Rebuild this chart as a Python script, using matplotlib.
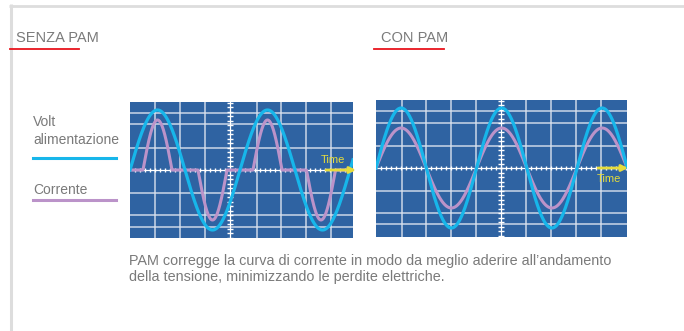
import matplotlib.pyplot as plt
import numpy as np

plt.rcParams['font.family'] = ['Liberation Sans', 'DejaVu Sans']

# ---- values (panel units = pixels) ----
titles = ['SENZA PAM', 'CON PAM']
legend_labels = ['Volt\nalimentazione', 'Corrente']
caption = ('PAM corregge la curva di corrente in modo da meglio aderire all\u2019andamento\n'
           'della tensione, minimizzando le perdite elettriche.')

# left panel: voltage sine, current as narrow pulses at the voltage peaks
left_volt_amp = 60
left_volt_period = 110
left_pulse_centers = [27.5, 82.5, 137.5, 191]
left_pulse_signs = [1, -1, 1, -1]
left_pulse_width = 29
left_pulse_amp = 50

# right panel: voltage and current in phase
right_volt_amp = 60
right_volt_period = 100.5
right_curr_amp = 40

left_vgrid = [25, 50, 75, 127, 151, 176, 201]
left_hgrid = [-57, -45, -23, 22, 46, 57]
right_vgrid = [26, 50, 75, 100, 150, 175, 200, 225]
right_hgrid = [-56, -45, -23, 22, 45, 57]

PANEL_BG = '#2f63a2'
GRID = '#dbe3ef'
BLUE = '#17b6ea'
PURPLE = '#bb93c9'
YELLOW = '#e6dc3c'
GRAY_TXT = '#7a7a7a'

W, H = 684, 331
fig = plt.figure(figsize=(W / 100, H / 100), dpi=100)
bg = fig.add_axes([0, 0, 1, 1])
bg.set_xlim(0, W)
bg.set_ylim(H, 0)
bg.axis('off')

# frame
bg.plot([9, W], [5.5, 5.5], color='#dddddd', lw=2.0, solid_capstyle='butt')
bg.plot([10.5, 10.5], [4, H], color='#dddddd', lw=2.2, solid_capstyle='butt')

# titles with red underline
bg.text(16, 38, titles[0], color=GRAY_TXT, fontsize=10.5, va='center')
bg.plot([10, 79], [49, 49], color='#e8141c', lw=1.3)
bg.text(381, 38, titles[1], color=GRAY_TXT, fontsize=10.5, va='center')
bg.plot([374, 444], [49, 49], color='#e8141c', lw=1.3)

# legend
bg.text(33, 131, legend_labels[0], color=GRAY_TXT, fontsize=10, va='center',
        linespacing=1.3)
bg.plot([33, 116], [157.5, 157.5], color=BLUE, lw=2.2)
bg.text(33, 190, legend_labels[1], color=GRAY_TXT, fontsize=10, va='center')
bg.plot([33, 116], [199.5, 199.5], color=PURPLE, lw=2.2)

bg.text(129, 269, caption, color=GRAY_TXT, fontsize=10.4, va='center',
        linespacing=1.2)


def make_panel(x0, y0, x1, y1, yc, vgrid, hgrid, axis_x):
    ax = fig.add_axes([x0 / W, (H - y1) / H, (x1 - x0) / W, (y1 - y0) / H])
    ax.set_xlim(0, x1 - x0)
    ax.set_ylim(-(y1 - yc), yc - y0)
    ax.set_facecolor(PANEL_BG)
    for s in ax.spines.values():
        s.set_visible(False)
    ax.set_xticks([])
    ax.set_yticks([])
    for g in vgrid:
        ax.axvline(g, color=GRID, lw=1.1, alpha=0.9)
    for g in hgrid:
        ax.axhline(g, color=GRID, lw=1.1, alpha=0.9)
    # centre axes with small ticks
    ax.axhline(0, color='white', lw=0.9)
    ax.axvline(axis_x, color='white', lw=0.9)
    tx = np.arange(5, x1 - x0, 5.0)
    ax.plot(tx, np.zeros_like(tx), ls='none', marker='|', ms=3.5,
            mew=1.0, color='white')
    ylo, yhi = ax.get_ylim()
    ty = np.arange(np.ceil(ylo / 4.5) * 4.5, yhi, 4.5)
    ax.plot(np.full_like(ty, axis_x), ty, ls='none', marker='_', ms=5,
            mew=1.0, color='white')
    return ax


def time_arrow(ax, xs, xe, tx, ty):
    ax.annotate('', xy=(xe, 0), xytext=(xs, 0), annotation_clip=False,
                arrowprops=dict(arrowstyle='-|>', color=YELLOW, lw=2.0,
                                mutation_scale=9, shrinkA=0, shrinkB=0))
    ax.text(tx, ty, 'Time', color=YELLOW, fontsize=8, ha='left', va='center')


# ---- left panel ----
axl = make_panel(130, 102, 353, 238, 170, left_vgrid, left_hgrid, 100)
t = np.linspace(0, 223, 900)
curr = np.zeros_like(t)
for c, sgn in zip(left_pulse_centers, left_pulse_signs):
    m = np.abs(t - c) < left_pulse_width / 2
    curr[m] = sgn * left_pulse_amp * np.sin(np.pi * (t[m] - c + left_pulse_width / 2)
                                            / left_pulse_width)
axl.plot(t, curr, color=PURPLE, lw=2.2, solid_joinstyle='round')
time_arrow(axl, 196, 226, 191, 10)
axl.plot(t, left_volt_amp * np.sin(2 * np.pi * t / left_volt_period),
         color=BLUE, lw=2.3)

# ---- right panel ----
axr = make_panel(376, 100, 627, 237, 168, right_vgrid, right_hgrid, 125)
t = np.linspace(0, 251, 900)
axr.plot(t, right_curr_amp * np.sin(2 * np.pi * t / right_volt_period),
         color=PURPLE, lw=2.2)
axr.plot(t, right_volt_amp * np.sin(2 * np.pi * t / right_volt_period),
         color=BLUE, lw=2.3)
time_arrow(axr, 222, 252, 221, -11)

fig.savefig('out.png', dpi=100)
